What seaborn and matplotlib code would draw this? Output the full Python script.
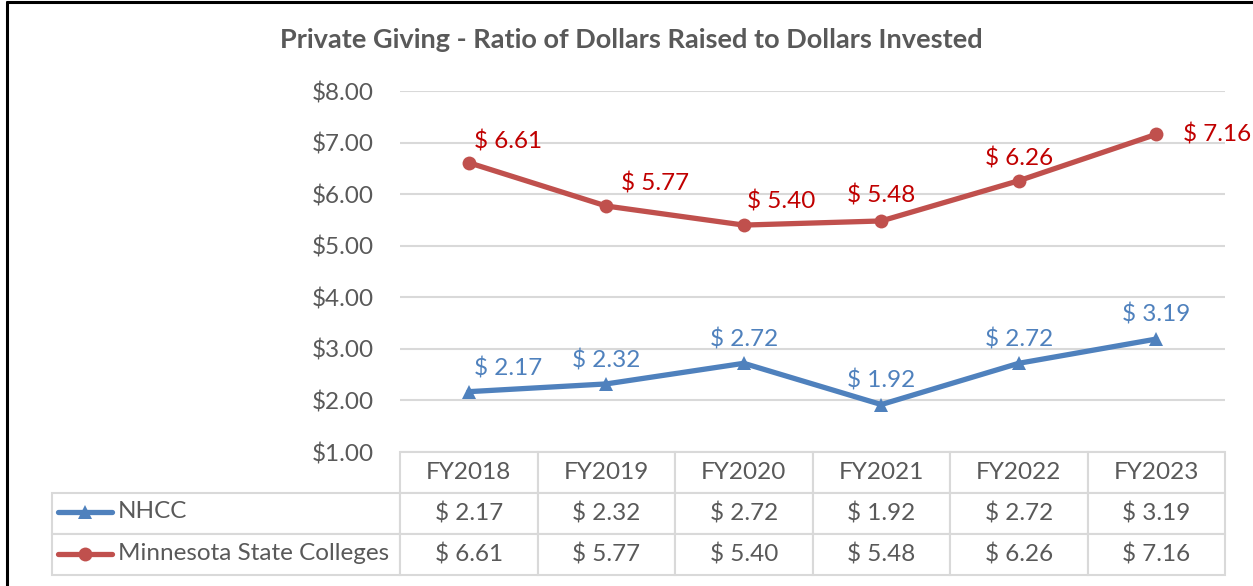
import matplotlib
matplotlib.use("Agg")
import matplotlib.pyplot as plt
import seaborn as sns
import pandas as pd
from matplotlib.lines import Line2D

# data
years = ["FY2018", "FY2019", "FY2020", "FY2021", "FY2022", "FY2023"]
nhcc = [2.17, 2.32, 2.72, 1.92, 2.72, 3.19]
msc = [6.61, 5.77, 5.40, 5.48, 6.26, 7.16]
series_names = ["NHCC", "Minnesota State Colleges"]
y_ticks = [1, 2, 3, 4, 5, 6, 7, 8]

title = "Private Giving - Ratio of Dollars Raised to Dollars Invested"

blue = "#4F81BD"
red = "#C0504D"
blue_lbl = "#4F81BD"
red_lbl = "#C00000"
gray_txt = "#595959"
grid_c = "#D9D9D9"
fs = 17.5

sns.set_style("white")
plt.rcParams["font.family"] = ["Lato", "DejaVu Sans"]

df = pd.DataFrame({
    "Year": years * 2,
    "Value": nhcc + msc,
    "Series": [series_names[0]] * len(years) + [series_names[1]] * len(years),
})

fig = plt.figure(figsize=(12.53, 5.86), dpi=100)
ax = fig.add_axes([400 / 1253, 1 - 452 / 586, 825 / 1253, 361 / 586])

sns.lineplot(data=df, x="Year", y="Value", hue="Series", style="Series",
             palette={series_names[0]: blue, series_names[1]: red},
             markers={series_names[0]: "^", series_names[1]: "o"},
             dashes=False, linewidth=3.8, markersize=10, markeredgewidth=0,
             legend=False, ax=ax)

ax.set_xlim(-0.5, 5.5)
ax.set_ylim(1, 8)
ax.set_yticks(y_ticks)
ax.set_yticklabels([f"${v:.2f}" for v in y_ticks], color=gray_txt, fontsize=fs)
ax.tick_params(axis="y", length=0, pad=19)
ax.set_xticks([])
ax.set_xlabel("")
ax.set_ylabel("")
ax.grid(axis="y", color=grid_c, lw=1.5)
ax.set_axisbelow(True)
for s in ax.spines.values():
    s.set_visible(False)

# data labels (offsets in points)
blue_off = [(28, 17), (0, 17), (0, 17), (0, 17), (0, 17), (0, 18)]
red_off = [(28, 15), (35, 16), (27, 17), (0, 18), (0, 16), (44, 0)]
for i, v in enumerate(nhcc):
    ax.annotate(f"$ {v:.2f}", (i, v), xytext=blue_off[i], textcoords="offset points",
                ha="center", va="center", color=blue_lbl, fontsize=fs)
for i, v in enumerate(msc):
    ax.annotate(f"$ {v:.2f}", (i, v), xytext=red_off[i], textcoords="offset points",
                ha="center", va="center", color=red_lbl, fontsize=fs)

# data table
cell_text = [[""] + [f"$ {v:.2f}" for v in nhcc],
             [""] + [f"$ {v:.2f}" for v in msc]]
tbl = ax.table(cellText=cell_text, colLabels=[""] + years,
               colWidths=[348 / 1173] + [137.5 / 1173] * 6,
               cellLoc="center", bbox=[-0.4218, -0.3407, 1.4218, 0.3407])
tbl.auto_set_font_size(False)
tbl.set_fontsize(fs)
for (r, c), cell in tbl.get_celld().items():
    cell.set_edgecolor(grid_c)
    cell.set_linewidth(1.5)
    cell.get_text().set_color(gray_txt)
tbl[(0, 0)].visible_edges = ""

row_y = [-0.1662, -0.2825]
keys = [(blue, "^"), (red, "o")]
for name, y, (col, mk) in zip(series_names, row_y, keys):
    ax.plot([-0.4145, -0.349], [y, y], transform=ax.transAxes, clip_on=False,
            color=col, lw=3.8)
    ax.plot([-0.3818], [y], transform=ax.transAxes, clip_on=False,
            color=col, marker=mk, markersize=10, markeredgewidth=0)
    ax.text(-0.3418, y, name, transform=ax.transAxes, ha="left", va="center",
            color=gray_txt, fontsize=fs)

fig.text(0.5036, 1 - 40 / 586, title, ha="center", va="center",
         fontsize=19.5, fontweight="bold", color=gray_txt)

# outer frame (left and top edges visible)
fig.add_artist(Line2D([0.0056, 0.0056], [0, 0.996], transform=fig.transFigure,
                      color="black", lw=2.2))
fig.add_artist(Line2D([0.0056, 1], [0.996, 0.996], transform=fig.transFigure,
                      color="black", lw=2.2))

fig.savefig("out.png", dpi=100)
